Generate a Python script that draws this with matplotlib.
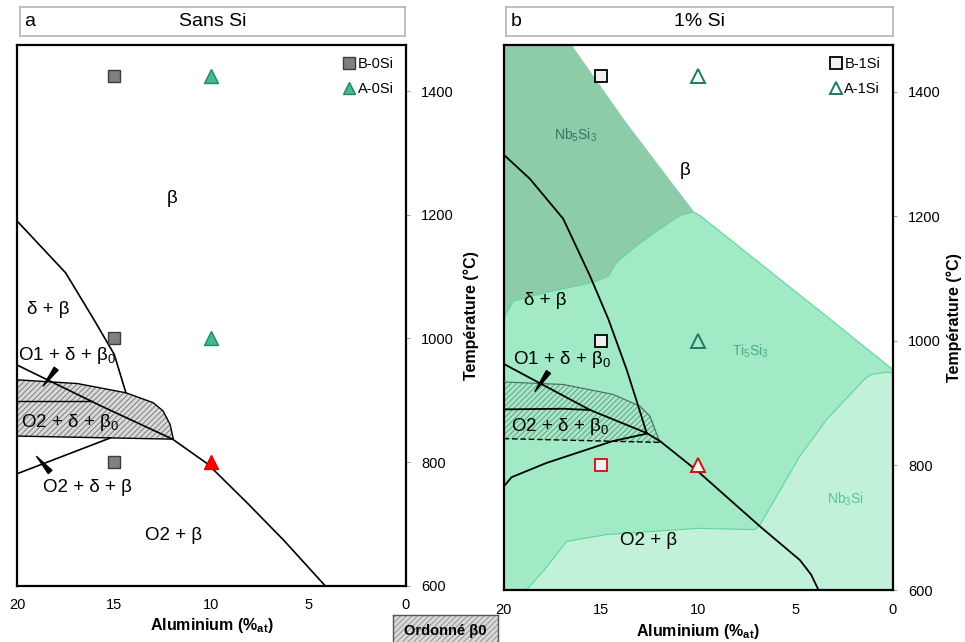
import matplotlib.pyplot as plt
import matplotlib as mpl

mpl.rcParams['font.family'] = ['Liberation Sans', 'DejaVu Sans']
mpl.rcParams['mathtext.default'] = 'regular'
mpl.rcParams['hatch.linewidth'] = 0.6

# ---- panneau a : sans Si ----
beta_al = [20, 17.5, 16.0, 15.0, 14.4]
beta_t = [1190, 1106, 1028, 974, 912]
o1_al = [20, 15.7, 12.0, 10.2, 8.2, 6.3, 4.16]
o1_t = [957, 891, 837, 797, 735, 674, 600]
ord_top_al = [20, 16.9, 14.4, 13.0, 12.5, 12.13, 11.96]
ord_top_t = [933, 927, 912, 896, 883, 861, 837]
ord_bot_al = [11.96, 20]
ord_bot_t = [837, 842]
inner_al = [20, 16.16]
inner_t = [899, 899]
low_al = [20, 15.2]
low_t = [781, 839]

b0_al = [15, 15, 15]
b0_t = [1425, 1000, 800]
a0_al = [10, 10]
a0_t = [1425, 1000]
a0_red_al = [10]
a0_red_t = [800]

# ---- panneau b : 1% Si ----
nb5_al = [20, 16.5, 13.85, 11.62, 10.25]
nb5_t = [1475, 1475, 1357, 1265, 1209]
ti5_al = [20, 19.93, 19.5, 17.79, 15.39, 14.62, 14.19, 13.16, 11.96, 10.94, 10.25, 9.9, 3.22, 0]
ti5_t = [1020, 1040, 1064, 1078, 1094, 1104, 1126, 1153, 1180, 1201, 1207, 1201, 1035, 954]
nb3_al = [18.82, 17.79, 16.76, 14.72, 10.0, 7.08, 6.82, 4.77, 3.39, 1.4, 1.08, 0.3, 0]
nb3_t = [600, 637, 678, 689, 699, 697, 705, 815, 874, 940, 946, 950, 948]

r_beta_al = [20, 18.65, 16.94, 15.56, 14.62, 13.68, 13.16, 12.65]
r_beta_t = [1299, 1260, 1196, 1104, 1035, 954, 903, 852]
r_o1_al = [20, 15.56, 12.65, 11.96, 10.0, 6.82, 4.77, 4.2, 3.83]
r_o1_t = [963, 889, 852, 839, 790, 702, 648, 625, 601]
r_inner_al = [20, 16.94, 15.56]
r_inner_t = [890, 891, 889]
r_low_al = [20, 19.6, 17.8, 14.4, 12.65]
r_low_t = [766, 781, 804, 839, 851]
r_dash_al = [20, 11.96]
r_dash_t = [843, 837]
r_ord_top_al = [20, 16.94, 14.37, 12.99, 12.48, 12.15, 11.96]
r_ord_top_t = [934, 930, 914, 895, 879, 852, 837]

b1_al = [15, 15]
b1_t = [1425, 1000]
a1_al = [10, 10]
a1_t = [1425, 1000]
b1_red_al = [15]
b1_red_t = [800]
a1_red_al = [10]
a1_red_t = [800]

yticks = [600, 800, 1000, 1200, 1400]
xticks = [20, 15, 10, 5, 0]

fig = plt.figure(figsize=(9.65, 6.42), dpi=100)
W, H = 965, 642


def box(x0, y0, x1, y1):
    return [x0 / W, 1 - y1 / H, (x1 - x0) / W, (y1 - y0) / H]


def setup(ax, xlab_pad, ylab_pad):
    ax.set_xlim(20, 0)
    ax.set_ylim(600, 1475)
    ax.set_xticks(xticks)
    ax.set_yticks(yticks)
    ax.yaxis.tick_right()
    ax.yaxis.set_label_position('right')
    ax.tick_params(axis='y', length=3, width=0.6, color='#888888', pad=8, labelsize=10.5)
    ax.tick_params(axis='x', length=0, pad=9, labelsize=10.5)
    for s in ax.spines.values():
        s.set_linewidth(1.6)
    ax.set_xlabel('Aluminium (%$_{at}$)', fontsize=11.5, fontweight='bold', labelpad=xlab_pad)
    ax.set_ylabel('Température (°C)', fontsize=11.5, fontweight='bold', labelpad=ylab_pad)


def title_box(rect, letter, title):
    t = fig.add_axes(rect)
    t.set_xticks([])
    t.set_yticks([])
    for s in t.spines.values():
        s.set_color('#b5b5b5')
        s.set_linewidth(1.2)
    t.text(0.012, 0.5, letter, fontsize=14, va='center', ha='left')
    t.text(0.5, 0.5, title, fontsize=14, va='center', ha='center')


def pointer(ax, thick, thin):
    ax.annotate('', xy=thin, xytext=thick,
                arrowprops=dict(arrowstyle='wedge,tail_width=0.35', color='black',
                                shrinkA=0, shrinkB=0), zorder=6)


leg_kw = dict(loc='upper right', frameon=False, fontsize=10.5, handletextpad=0.1,
              handlelength=1.0, borderaxespad=0.45, labelspacing=0.75, markerscale=0.9)

# ---------------- panneau a ----------------
ax1 = fig.add_axes(box(17, 44.7, 406, 585.7))
setup(ax1, 3, 7)
title_box(box(20, 7, 405, 36), 'a', 'Sans Si')

ax1.fill(ord_top_al + ord_bot_al, ord_top_t + ord_bot_t, facecolor='#d9d9d9',
         edgecolor='#707070', hatch='//////', linewidth=0, zorder=1)
ax1.plot(ord_top_al + ord_bot_al, ord_top_t + ord_bot_t, color='black', lw=1.0, zorder=3)
ax1.plot(beta_al, beta_t, color='black', lw=1.2, zorder=3)
ax1.plot(o1_al, o1_t, color='black', lw=1.2, zorder=3)
ax1.plot(inner_al, inner_t, color='black', lw=1.0, zorder=3)
ax1.plot(low_al, low_t, color='black', lw=1.2, zorder=3)
pointer(ax1, (17.99, 951), (18.65, 923))
pointer(ax1, (18.30, 784), (18.99, 809))

ax1.plot(b0_al, b0_t, 's', ms=9, mfc='#808080', mec='#3c3c3c', mew=1, label='B-0Si', zorder=5)
ax1.plot(a0_al, a0_t, '^', ms=10, mfc='#45b98a', mec='#1f8a62', mew=1, label='A-0Si', zorder=5)
ax1.plot(a0_red_al, a0_red_t, '^', ms=10, mfc='#ff0000', mec='#dd0000', mew=1, zorder=5)
ax1.legend(**leg_kw)

lab = dict(fontsize=13.5, ha='center', va='center', zorder=6)
ax1.text(12.05, 1226, 'β', **lab)
ax1.text(18.39, 1047, 'δ + β', **lab)
ax1.text(17.43, 972, 'O1 + δ + β$_0$', **lab)
ax1.text(17.27, 864, 'O2 + δ + β$_0$', **lab)
ax1.text(16.4, 759, 'O2 + δ + β', **lab)
ax1.text(11.96, 681, 'O2 + β', **lab)

# ---------------- panneau b ----------------
ax2 = fig.add_axes(box(503.7, 45, 892.7, 590))
setup(ax2, 4, 4)
title_box(box(505.7, 7, 892.7, 36), 'b', '1% Si')

ax2.fill(nb5_al + ti5_al[:11][::-1], nb5_t + ti5_t[:11][::-1], facecolor='#8ccca9',
         edgecolor='none', zorder=0)
ax2.fill(ti5_al + [0, 20], ti5_t + [600, 600], facecolor='#a2eac6',
         edgecolor='#5fd699', linewidth=0.8, zorder=0.5)
ax2.fill(nb3_al + [0], nb3_t + [600], facecolor='#c1f1d9',
         edgecolor='#5fd699', linewidth=0.8, zorder=0.6)

ax2.fill(r_ord_top_al + r_dash_al[::-1], r_ord_top_t + r_dash_t[::-1], facecolor='none',
         edgecolor='#6a8c7a', hatch='//////', linewidth=0, zorder=1)
ax2.plot(r_ord_top_al, r_ord_top_t, color='#4a6a5a', lw=0.8, zorder=3)
ax2.plot(r_dash_al, r_dash_t, color='black', lw=1.0, ls='--', dashes=(4, 2), zorder=3)
ax2.plot(r_beta_al, r_beta_t, color='black', lw=1.3, zorder=3)
ax2.plot(r_o1_al, r_o1_t, color='black', lw=1.3, zorder=3)
ax2.plot(r_inner_al, r_inner_t, color='black', lw=1.3, zorder=3)
ax2.plot(r_low_al, r_low_t, color='black', lw=1.3, zorder=3)
pointer(ax2, (17.7, 950), (18.39, 919))

ax2.plot(b1_al, b1_t, 's', ms=9, mfc='#f0f0f0', mec='black', mew=1.3, label='B-1Si', zorder=5)
ax2.plot(a1_al, a1_t, '^', ms=10, mfc='none', mec='#1b7a64', mew=1.4, label='A-1Si', zorder=5)
ax2.plot(b1_red_al, b1_red_t, 's', ms=9, mfc='#f0f0f0', mec='#cc1111', mew=1.3, zorder=5)
ax2.plot(a1_red_al, a1_red_t, '^', ms=10, mfc='#f5f5f5', mec='#cc1111', mew=1.4, zorder=5)
ax2.legend(**leg_kw)

ax2.text(16.3, 1330, 'Nb$_5$Si$_3$', fontsize=10, color='#2e7a5e', ha='center', va='center')
ax2.text(7.3, 984, 'Ti$_5$Si$_3$', fontsize=10, color='#4caa82', ha='center', va='center')
ax2.text(2.45, 745, 'Nb$_3$Si', fontsize=10, color='#55c593', ha='center', va='center')
ax2.text(10.68, 1274, 'β', **lab)
ax2.text(17.88, 1064, 'δ + β', **lab)
ax2.text(17.02, 970, 'O1 + δ + β$_0$', **lab)
ax2.text(17.1, 862, 'O2 + δ + β$_0$', **lab)
ax2.text(12.57, 680, 'O2 + β', **lab)

# legende "Ordonne beta0"
lg = fig.add_axes(box(393, 615, 498, 645))
lg.set_xticks([])
lg.set_yticks([])
lg.patch.set_facecolor('#d9d9d9')
lg.patch.set_hatch('//////')
lg.patch.set_edgecolor('#8a8a8a')
for s in lg.spines.values():
    s.set_color('#555555')
    s.set_linewidth(1.0)
lg.text(0.5, 0.47, 'Ordonné β0', fontsize=10.5, fontweight='bold', ha='center', va='center')

fig.savefig('out.png', dpi=100)
